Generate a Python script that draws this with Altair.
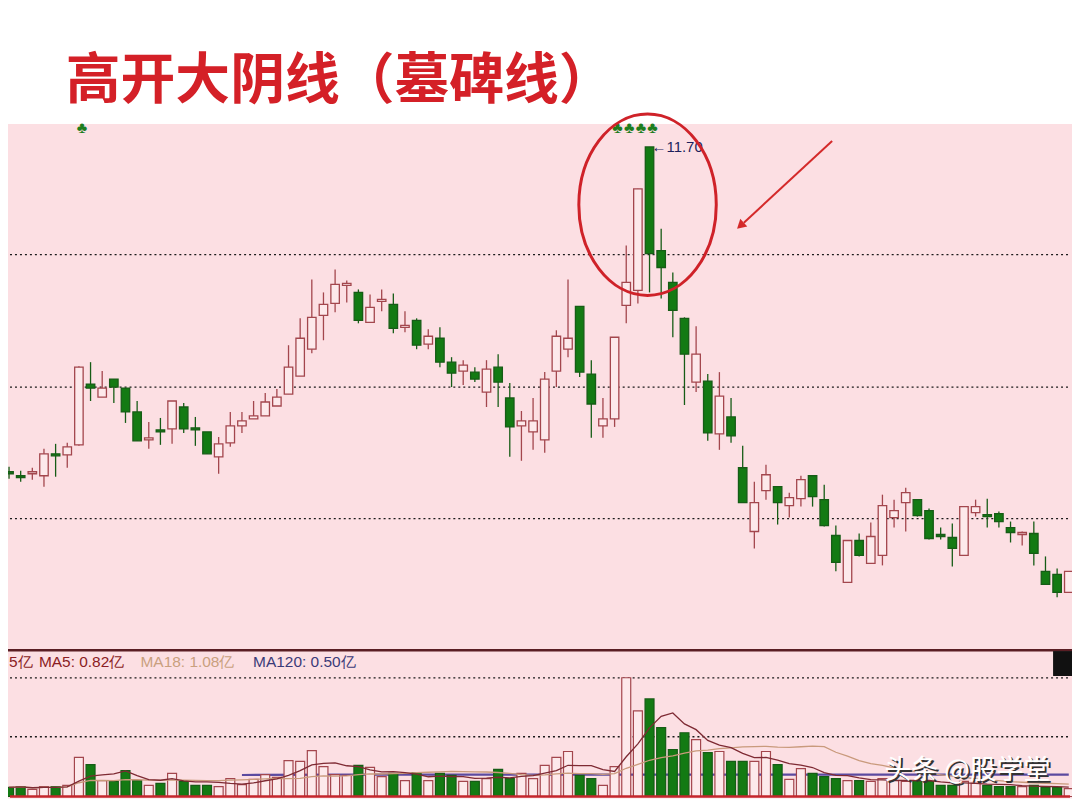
import altair as alt
import pandas as pd

title_text = "高开大阴线（墓碑线）"

opens = [8.44, 8.40, 8.42, 8.40, 8.62, 8.61, 8.71, 9.32, 9.19, 9.37,
         9.28, 9.04, 8.76, 8.86, 8.87, 9.09, 8.88, 8.84, 8.59, 8.73,
         8.90, 8.97, 9.00, 9.10, 9.22, 9.40, 9.67, 10.01, 10.13, 10.31,
         10.24, 9.94, 10.15, 10.12, 9.89, 9.96, 9.72, 9.78, 9.54, 9.45,
         9.44, 9.24, 9.49, 9.18, 8.90, 8.84, 8.76, 9.45, 9.67, 10.10,
         9.42, 8.90, 8.97, 10.11, 10.26, 11.70, 10.66, 10.34, 9.98, 9.34,
         9.35, 8.82, 8.99, 8.48, 7.84, 8.25, 8.29, 8.10, 8.17, 8.40,
         8.16, 7.80, 7.33, 7.75, 7.52, 7.60, 7.98, 8.13, 8.16, 8.05,
         7.81, 7.78, 7.60, 8.03, 8.01, 8.02, 7.88, 7.81, 7.82, 7.44,
         7.41, 7.23]
highs = [8.49, 8.45, 8.48, 8.67, 8.72, 8.73, 9.50, 9.54, 9.45, 9.37,
         9.28, 9.15, 8.94, 8.98, 9.15, 9.13, 8.99, 8.84, 8.79, 9.04,
         9.04, 9.15, 9.23, 9.27, 9.71, 9.98, 10.37, 10.24, 10.47, 10.36,
         10.27, 10.22, 10.27, 10.23, 10.05, 9.98, 9.87, 9.89, 9.59, 9.56,
         9.49, 9.56, 9.62, 9.33, 9.05, 9.18, 9.44, 9.86, 10.37, 10.10,
         9.56, 9.18, 9.79, 10.71, 11.28, 11.70, 10.88, 10.44, 9.99, 9.90,
         9.42, 9.44, 9.18, 8.70, 8.34, 8.51, 8.29, 8.23, 8.40, 8.40,
         8.31, 7.90, 7.75, 7.82, 7.93, 8.21, 8.16, 8.28, 8.16, 8.07,
         7.88, 7.92, 8.09, 8.16, 8.17, 8.04, 7.94, 7.84, 7.94, 7.59,
         7.47, 7.44]
lows = [8.37, 8.34, 8.36, 8.29, 8.39, 8.48, 8.70, 9.15, 9.19, 9.13,
        8.93, 8.75, 8.67, 8.71, 8.72, 8.83, 8.70, 8.62, 8.42, 8.69,
        8.83, 8.97, 9.00, 9.10, 9.22, 9.40, 9.63, 9.76, 10.04, 10.14,
        9.93, 9.94, 10.05, 9.83, 9.84, 9.67, 9.67, 9.49, 9.29, 9.31,
        9.34, 9.09, 9.09, 8.59, 8.55, 8.66, 8.63, 9.29, 9.59, 9.39,
        8.78, 8.78, 8.89, 9.93, 10.13, 10.24, 10.18, 9.79, 9.11, 9.24,
        8.75, 8.66, 8.73, 8.13, 7.67, 8.16, 7.91, 7.98, 8.09, 8.09,
        7.89, 7.44, 7.33, 7.59, 7.52, 7.50, 7.88, 7.84, 7.99, 7.76,
        7.76, 7.49, 7.60, 7.99, 7.88, 7.88, 7.73, 7.70, 7.50, 7.31,
        7.18, 7.23]
closes = [8.42, 8.38, 8.44, 8.62, 8.60, 8.69, 9.49, 9.28, 9.28, 9.29,
          9.04, 8.75, 8.78, 8.84, 9.15, 8.87, 8.86, 8.62, 8.72, 8.90,
          8.95, 9.00, 9.14, 9.19, 9.49, 9.78, 9.99, 10.12, 10.32, 10.33,
          9.96, 10.09, 10.17, 9.88, 9.91, 9.71, 9.80, 9.54, 9.43, 9.51,
          9.37, 9.47, 9.34, 8.89, 8.95, 8.95, 9.37, 9.80, 9.78, 9.44,
          9.12, 8.97, 9.79, 10.34, 11.28, 10.63, 10.49, 10.06, 9.62, 9.62,
          8.83, 9.20, 8.80, 8.13, 8.13, 8.41, 8.13, 8.18, 8.36, 8.19,
          7.90, 7.53, 7.75, 7.60, 7.79, 8.10, 8.05, 8.23, 8.00, 7.77,
          7.79, 7.67, 8.09, 8.09, 7.99, 7.94, 7.83, 7.83, 7.62, 7.31,
          7.23, 7.44]
volumes = [0.23, 0.25, 0.18, 0.25, 0.25, 0.28, 0.98, 0.80, 0.40, 0.38,
           0.65, 0.40, 0.28, 0.33, 0.58, 0.38, 0.28, 0.28, 0.25, 0.45,
           0.30, 0.43, 0.55, 0.48, 0.90, 0.88, 1.15, 0.75, 0.55, 0.53,
           0.78, 0.73, 0.50, 0.58, 0.40, 0.60, 0.40, 0.58, 0.53, 0.38,
           0.38, 0.45, 0.68, 0.45, 0.58, 0.45, 0.78, 0.98, 1.13, 0.53,
           0.45, 0.28, 0.75, 2.98, 2.15, 2.45, 1.73, 1.18, 1.60, 1.43,
           1.10, 1.13, 0.88, 0.88, 0.88, 1.13, 0.80, 0.43, 0.70, 0.58,
           0.50, 0.45, 0.40, 0.40, 0.38, 0.45, 0.40, 0.38, 0.40, 0.38,
           0.28, 0.28, 0.38, 0.33, 0.28, 0.25, 0.25, 0.25, 0.28, 0.23,
           0.23, 0.20]
signal_idx = [6, 52, 53, 54, 55]
signal_level = 11.89
ma120_idx = [20, 30, 40, 50, 60, 70, 80, 91]
ma120_val = [0.54, 0.55, 0.55, 0.55, 0.55, 0.55, 0.55, 0.55]
price_grid = [7.97, 9.29, 10.62]
vol_grid = [1.5, 2.975]
legend_items = ["5亿", "MA5: 0.82亿", "MA18: 1.08亿", "MA120: 0.50亿"]
watermark = "头条 @股学堂"

n = len(opens)
df = pd.DataFrame({"i": list(range(n)), "open": opens, "high": highs,
                   "low": lows, "close": closes, "vol": volumes})
df["dir"] = ["up" if c >= o else "down" for o, c in zip(opens, closes)]

W = 1068
HP = 527
HV = 150
PINK = "#fcdfe3"
XS = alt.Scale(domain=[0.339, 90.85], nice=False, zero=False)
YP = alt.Scale(domain=[6.66, 11.93], nice=False, zero=False)
YV = alt.Scale(domain=[-0.05, 3.7], nice=False, zero=False)
X = alt.X("i:Q", scale=XS, axis=None)
XL = alt.value(2)
XR = alt.value(W - 2)

fill_p = alt.Scale(domain=["up", "down"], range=["#fde9eb", "#137a13"])
stroke_p = alt.Scale(domain=["up", "down"], range=["#a3464d", "#165c16"])

one = pd.DataFrame({"a": [0]})

# ---------- title ----------
title_chart = alt.Chart(pd.DataFrame({"t": [title_text]})).mark_text(
    align="left", baseline="middle", fontSize=55, color="#d42027",
    font="Noto Sans CJK SC", fontWeight="bold"
).encode(x=alt.value(58), y=alt.value(72), text="t:N").properties(
    width=W, height=115)

# ---------- price panel ----------
bg_p = alt.Chart(one).mark_rect(color=PINK).encode(
    x=alt.value(0), x2=alt.value(W), y=alt.value(0), y2=alt.value(HP))

grid_p = alt.Chart(pd.DataFrame({"g": price_grid})).mark_rule(
    strokeDash=[2, 3], color="#1a1a1a", strokeWidth=1.3
).encode(y=alt.Y("g:Q", scale=YP, axis=None), x=XL, x2=XR)

wicks = alt.Chart(df).mark_rule(strokeWidth=1.3, clip=True).encode(
    x=X, y=alt.Y("low:Q", scale=YP, axis=None), y2="high:Q",
    stroke=alt.Stroke("dir:N", scale=stroke_p, legend=None))

bodies = alt.Chart(df).mark_bar(size=8.5, strokeWidth=1.3, clip=True).encode(
    x=X, y=alt.Y("open:Q", scale=YP, axis=None), y2="close:Q",
    fill=alt.Fill("dir:N", scale=fill_p, legend=None),
    stroke=alt.Stroke("dir:N", scale=stroke_p, legend=None))

signals = alt.Chart(pd.DataFrame({"i": signal_idx,
                                  "p": [signal_level] * len(signal_idx)})).mark_text(
    text="♣", fontSize=16, color="#1e7d1e", dx=3, baseline="middle"
).encode(x=X, y=alt.Y("p:Q", scale=YP, axis=None))

peak_i = int(df["high"].idxmax())
peak = alt.Chart(pd.DataFrame({"i": [peak_i], "p": [highs[peak_i]],
                               "t": ["←" + format(highs[peak_i], ".2f")]})).mark_text(
    align="left", baseline="middle", dx=2, fontSize=15, color="#1c1f5c",
    font="Liberation Sans"
).encode(x=X, y=alt.Y("p:Q", scale=YP, axis=None), text="t:N")

ELLIPSE = ("M 0 -1 C 0.4187 -1 0.758 -0.5523 0.758 0 "
           "C 0.758 0.5523 0.4187 1 0 1 "
           "C -0.4187 1 -0.758 0.5523 -0.758 0 "
           "C -0.758 -0.5523 -0.4187 -1 0 -1 Z")
ellipse = alt.Chart(pd.DataFrame({"i": [54.83], "p": [11.12]})).mark_point(
    shape=ELLIPSE, size=33124, filled=False, stroke="#cf2229",
    strokeWidth=3, opacity=1
).encode(x=X, y=alt.Y("p:Q", scale=YP, axis=None))

arrow_line = alt.Chart(pd.DataFrame({"i": [70.68], "p": [11.76],
                                     "i2": [63.1], "p2": [10.94]})).mark_rule(
    color="#d42a2a", strokeWidth=2
).encode(x=X, y=alt.Y("p:Q", scale=YP, axis=None), x2="i2:Q", y2="p2:Q")
arrow_head = alt.Chart(pd.DataFrame({"i": [62.9], "p": [10.92]})).mark_point(
    shape="triangle", angle=228, size=110, filled=True, color="#d42a2a", opacity=1
).encode(x=X, y=alt.Y("p:Q", scale=YP, axis=None))

price_chart = alt.layer(bg_p, grid_p, wicks, bodies, signals, peak, ellipse,
                        arrow_line, arrow_head).properties(width=W, height=HP)

# ---------- volume panel ----------
fill_v = alt.Scale(domain=["up", "down"], range=["#fde8ea", "#127512"])
stroke_v = alt.Scale(domain=["up", "down"], range=["#a0464c", "#86d46a"])

bg_v = alt.Chart(one).mark_rect(color=PINK).encode(
    x=alt.value(0), x2=alt.value(W), y=alt.value(0), y2=alt.value(HV))

grid_v = alt.Chart(pd.DataFrame({"g": vol_grid})).mark_rule(
    strokeDash=[2, 3], color="#1a1a1a", strokeWidth=1.3
).encode(y=alt.Y("g:Q", scale=YV, axis=None), x=XL, x2=XR)

vbars = alt.Chart(df).mark_bar(size=9, strokeWidth=1.2, clip=True).encode(
    x=X, y=alt.Y("vol:Q", scale=YV, axis=None),
    fill=alt.Fill("dir:N", scale=fill_v, legend=None),
    stroke=alt.Stroke("dir:N", scale=stroke_v, legend=None))

ma5 = alt.Chart(df).transform_window(
    ma="mean(vol)", frame=[-4, 0], sort=[alt.SortField("i")]
).mark_line(color="#7e2a33", strokeWidth=1.3, clip=True).encode(
    x=X, y=alt.Y("ma:Q", scale=YV, axis=None))
ma18 = alt.Chart(df).transform_window(
    ma="mean(vol)", frame=[-17, 0], sort=[alt.SortField("i")]
).mark_line(color="#c99a7c", strokeWidth=1.3, clip=True).encode(
    x=X, y=alt.Y("ma:Q", scale=YV, axis=None))
ma120 = alt.Chart(pd.DataFrame({"i": ma120_idx, "ma": ma120_val})).mark_line(
    color="#5b4aa0", strokeWidth=2.2, clip=True
).encode(x=X, y=alt.Y("ma:Q", scale=YV, axis=None))

baseline = alt.Chart(pd.DataFrame({"v": [0]})).mark_rule(
    color="#c5262c", strokeWidth=2.5
).encode(y=alt.Y("v:Q", scale=YV, axis=None), x=XL, x2=XR)

sep = alt.Chart(one).mark_rect(color="#5a1e24").encode(
    y=alt.value(0), y2=alt.value(2.5), x=alt.value(0), x2=alt.value(W))

leg_colors = ["#8a1c24", "#8a1c24", "#c9a07e", "#3b3a78"]
leg_x = [1, 31, 133, 246]
leg_layers = []
for txt, col, lx in zip(legend_items, leg_colors, leg_x):
    leg_layers.append(
        alt.Chart(pd.DataFrame({"t": [txt]})).mark_text(
            align="left", baseline="middle", fontSize=15.5, color=col,
            font="Liberation Sans"
        ).encode(x=alt.value(lx), y=alt.value(13), text="t:N"))

black_box = alt.Chart(one).mark_rect(color="#111111").encode(
    x=alt.value(1049), x2=alt.value(W), y=alt.value(2), y2=alt.value(27))

wm_shadow = alt.Chart(pd.DataFrame({"t": [watermark]})).mark_text(
    align="center", baseline="middle", fontSize=27, color="#333333",
    font="Noto Sans CJK SC"
).encode(x=alt.value(965), y=alt.value(124), text="t:N")
wm = alt.Chart(pd.DataFrame({"t": [watermark]})).mark_text(
    align="center", baseline="middle", fontSize=27, color="#ffffff",
    font="Noto Sans CJK SC"
).encode(x=alt.value(963), y=alt.value(122), text="t:N")

vol_chart = alt.layer(bg_v, grid_v, ma120, vbars, ma18, ma5, baseline, sep,
                      *leg_layers, black_box, wm_shadow, wm).properties(
    width=W, height=HV)

chart = alt.vconcat(title_chart, price_chart, vol_chart, spacing=0,
                    bounds="flush").properties(
    padding={"left": 0, "right": 0, "top": 0, "bottom": 0},
    background="white"
).configure_view(strokeWidth=0)

chart.save("out.html", embed_options={"renderer": "svg", "actions": False})
